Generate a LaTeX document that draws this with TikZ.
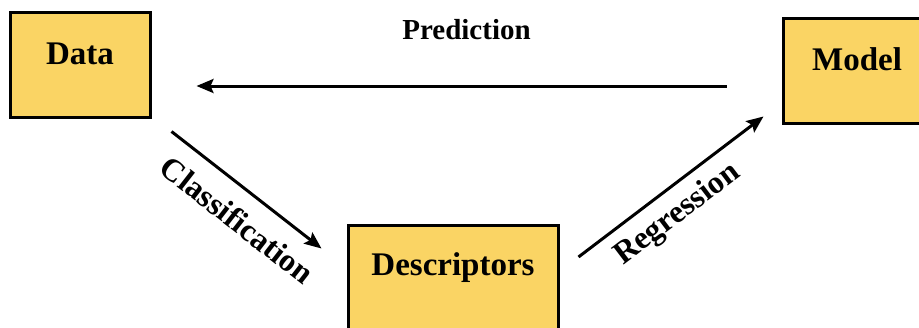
\documentclass[tikz,border=0pt]{standalone}
\usepackage{fontspec}
\setmainfont{Liberation Serif}
\usepackage{xcolor}
\usepackage{tikz}
\usetikzlibrary{arrows.meta, positioning, calc}
\definecolor{boxyellow}{RGB}{250,212,100}
\tikzset{
  stagebox/.style={rectangle, draw=black, line width=3pt, fill=boxyellow,
                   text height=23pt, text depth=24pt, inner sep=0pt,
                   font=\fontsize{33}{38}\selectfont\bfseries},
  flowlabel/.style={font=\fontsize{32}{37}\selectfont\bfseries},
  arrow/.style={-{Stealth[length=17pt, width=14pt, inset=3pt]}, line width=3pt},
}

\begin{document}
\begin{tikzpicture}[x=1pt, y=-1pt]
  \useasboundingbox (0,0) rectangle (919,327);

  \node[stagebox, minimum width=140pt, minimum height=105pt] (data) at (80,64.5) {Data};
  \node[stagebox, minimum width=148pt, minimum height=105pt] (model) at (857,70.5) {Model};
  \node[stagebox, minimum width=210pt, minimum height=105pt, text depth=28pt] (desc) at (453,277.5) {Descriptors};

  \draw[arrow, shorten <=55pt, shorten >=45pt] ([yshift=-15.5pt]model.west) -- ([yshift=-21.5pt]data.east)
    node[midway, yshift=56pt, font=\fontsize{29}{34}\selectfont\bfseries] {Prediction};

  \draw[arrow] ([shift={(20,13)}]data.south east) -- ([shift={(-25,25)}]desc.north west)
    node[flowlabel, pos=0.56, sloped, below=13pt] {Classification};

  \draw[arrow] ([shift={(19,-20.5)}]desc.east) -- ([shift={(-18,-8)}]model.south west)
    node[flowlabel, pos=0.45, sloped, below=7pt] {Regression};
\end{tikzpicture}
\end{document}
